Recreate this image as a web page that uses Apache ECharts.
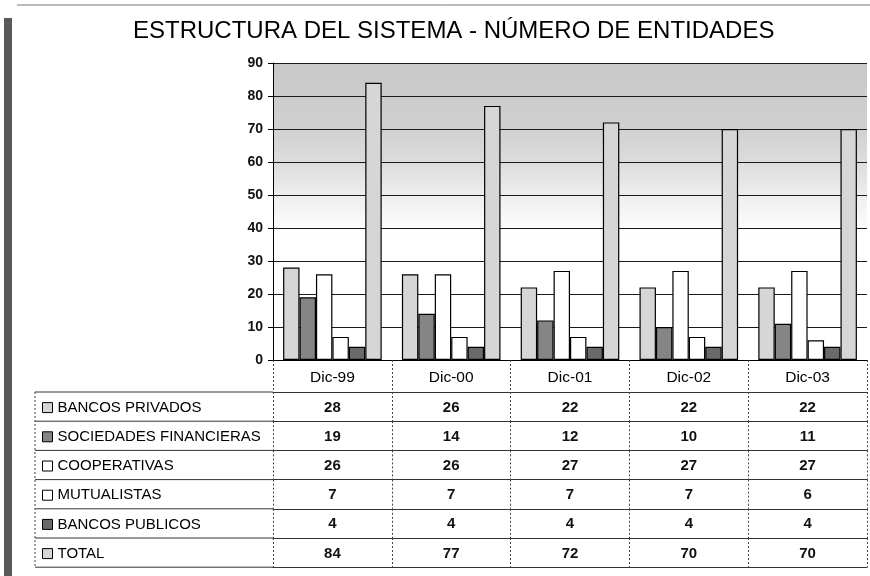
<!DOCTYPE html>
<html>
<head>
    <meta charset="utf-8">
    <style>
        html, body {
            height: 100%;
            margin: 0;
            padding: 0;
            background: #fff;
        }

        .container {
            width: 870px;
            height: 576px;
        }
    </style>
</head>
<body>
<div id="main" class="container"></div>

<script src="https://cdn.jsdelivr.net/npm/echarts@6/dist/echarts.min.js"></script>
<script type="text/javascript">
// datos
var categories = ['Dic-99', 'Dic-00', 'Dic-01', 'Dic-02', 'Dic-03'];
var seriesNames = ['BANCOS PRIVADOS', 'SOCIEDADES FINANCIERAS', 'COOPERATIVAS', 'MUTUALISTAS', 'BANCOS PUBLICOS', 'TOTAL'];
var bancosPrivados = [28, 26, 22, 22, 22];
var sociedadesFinancieras = [19, 14, 12, 10, 11];
var cooperativas = [26, 26, 27, 27, 27];
var mutualistas = [7, 7, 7, 7, 6];
var bancosPublicos = [4, 4, 4, 4, 4];
var total = [84, 77, 72, 70, 70];
var yTicks = [0, 10, 20, 30, 40, 50, 60, 70, 80, 90];

var allValues = [bancosPrivados, sociedadesFinancieras, cooperativas, mutualistas, bancosPublicos, total];
var fills = ['#d6d6d6', '#858585', '#ffffff', '#ffffff', '#6a6a6a', '#d6d6d6'];

// layout
var font = "'Liberation Sans', Arial, sans-serif";
var gridLeft = 273, gridRight = 3, gridTop = 63, gridBottom = 216;
var axisY = 576 - gridBottom;
var headerH = 32;
var rowH = 29.2;
var tableTop = axisY + headerH;
var tableLeft = 35;
var lineColor = '#333';
var dotted = {color: '#444', width: 1, type: [2, 2]};
var legendLine = 16;

var myChart = echarts.init(document.getElementById('main'));

var xAxes = [{
    type: 'category',
    data: categories,
    gridIndex: 0,
    position: 'bottom',
    axisLine: {lineStyle: {color: '#000', width: 1}},
    axisTick: {show: true, length: headerH, interval: 0, lineStyle: dotted},
    axisLabel: {interval: 0, margin: 10, color: '#000', fontSize: 15.5, fontFamily: font}
}];

allValues.forEach(function (vals, k) {
    xAxes.push({
        type: 'category',
        data: categories,
        gridIndex: 0,
        position: 'bottom',
        offset: headerH + k * rowH,
        axisLine: {lineStyle: {color: lineColor, width: 1}},
        axisTick: {show: true, length: rowH, interval: 0, lineStyle: dotted},
        axisLabel: {
            interval: 0, margin: 8, color: '#111', fontSize: 15, fontFamily: font, fontWeight: 'bold',
            formatter: function (v, i) { return String(vals[i]); }
        },
        splitLine: {show: false}
    });
});

// linea inferior de la tabla
xAxes.push({
    type: 'category',
    data: categories,
    gridIndex: 0,
    position: 'bottom',
    offset: headerH + allValues.length * rowH,
    axisLine: {lineStyle: {color: lineColor, width: 1}},
    axisTick: {show: false},
    axisLabel: {show: false}
});

var series = seriesNames.map(function (name, k) {
    return {
        name: name,
        type: 'bar',
        xAxisIndex: 0,
        data: allValues[k],
        barGap: '0%',
        barCategoryGap: '17%',
        itemStyle: {color: fills[k], borderColor: '#000', borderWidth: 1.2},
        emphasis: {disabled: true}
    };
});

// lineas de la columna izquierda de la tabla
var tableLines = [];
for (var r = 0; r <= allValues.length; r++) {
    tableLines.push({
        type: 'line',
        shape: {x1: tableLeft, y1: tableTop + r * rowH, x2: gridLeft, y2: tableTop + r * rowH},
        style: {stroke: lineColor, lineWidth: 1}
    });
}
tableLines.push({
    type: 'line',
    shape: {x1: tableLeft, y1: tableTop, x2: tableLeft, y2: tableTop + allValues.length * rowH},
    style: {stroke: '#444', lineWidth: 1, lineDash: [2, 2]}
});
// marco del escaneo
tableLines.push({type: 'rect', shape: {x: 4, y: 18, width: 8, height: 558}, style: {fill: '#5a5a5a'}});
tableLines.push({type: 'line', shape: {x1: 17, y1: 5, x2: 870, y2: 5}, style: {stroke: '#777', lineWidth: 1}});

var option = {
    animation: false,
    title: {
        text: 'ESTRUCTURA DEL SISTEMA - NÚMERO DE ENTIDADES',
        left: 133,
        top: 19,
        padding: 0,
        textStyle: {color: '#000', fontSize: 24, fontWeight: 'normal', fontFamily: font}
    },
    legend: {
        orient: 'vertical',
        left: 42,
        top: tableTop + (rowH - legendLine) / 2 + 1,
        padding: 0,
        itemWidth: 10,
        itemHeight: 10,
        itemGap: rowH - legendLine,
        icon: 'rect',
        selectedMode: false,
        itemStyle: {borderColor: '#000', borderWidth: 1},
        textStyle: {color: '#000', fontSize: 15, lineHeight: legendLine, fontFamily: font},
        data: seriesNames
    },
    grid: {
        left: gridLeft,
        right: gridRight,
        top: gridTop,
        bottom: gridBottom,
        show: true,
        borderWidth: 0,
        backgroundColor: new echarts.graphic.LinearGradient(0, 0, 0, 1, [
            {offset: 0, color: '#c8c8c8'},
            {offset: 0.22, color: '#d0d0d0'},
            {offset: 0.34, color: '#dddddd'},
            {offset: 0.46, color: '#f0f0f0'},
            {offset: 0.58, color: '#ffffff'},
            {offset: 1, color: '#ffffff'}
        ])
    },
    xAxis: xAxes,
    yAxis: {
        type: 'value',
        min: yTicks[0],
        max: yTicks[yTicks.length - 1],
        interval: 10,
        axisLine: {show: true, lineStyle: {color: '#000', width: 1}},
        axisTick: {show: true, length: 5, lineStyle: {color: '#000'}},
        axisLabel: {margin: 10, color: '#111', fontSize: 14, fontFamily: font, fontWeight: 'bold'},
        splitLine: {show: true, lineStyle: {color: '#1a1a1a', width: 1}}
    },
    graphic: tableLines,
    series: series
};

myChart.setOption(option);
</script>
</body>
</html>
